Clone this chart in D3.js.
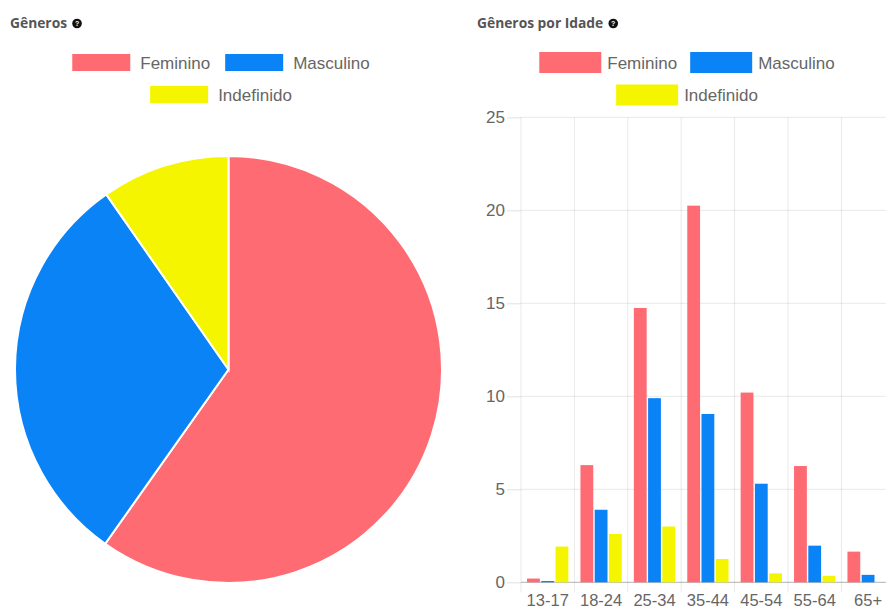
<!DOCTYPE html>
<html>
<head>
<meta charset="utf-8">
<script src="https://cdn.jsdelivr.net/npm/d3@7"></script>
<style>
  html, body { margin: 0; padding: 0; background: #fff; }
  svg { display: block; }
</style>
</head>
<body>
<svg id="chart" width="886" height="610"></svg>
<script>
// ---------- DATA ----------
const genders = ["Feminino", "Masculino", "Indefinido"];
const genderColors = ["#ff6b73", "#0a83f6", "#f5f500"];
const genderTotals = [59.8, 30.5, 9.7];

const ageGroups = ["13-17", "18-24", "25-34", "35-44", "45-54", "55-64", "65+"];
const femininoValues = [0.2, 6.3, 14.75, 20.25, 10.2, 6.25, 1.65];
const masculinoValues = [0.07, 3.9, 9.9, 9.05, 5.3, 1.97, 0.4];
const indefinidoValues = [1.92, 2.6, 3.0, 1.25, 0.48, 0.35, 0];
const yTicks = [0, 5, 10, 15, 20, 25];

const pieTitle = "Gêneros";
const barTitle = "Gêneros por Idade";

// ---------- SETUP ----------
const svg = d3.select("#chart");
svg.append("rect").attr("width", 886).attr("height", 610).attr("fill", "#fff");
const labelFont = "'Liberation Sans', Arial, Helvetica, sans-serif";
const titleFont = "'Open Sans', 'DejaVu Sans', sans-serif";

function title(x, y, txt) {
  const g = svg.append("g");
  const t = g.append("text").attr("x", x).attr("y", y)
    .attr("font-family", titleFont).attr("font-weight", 700)
    .attr("font-size", 13.8).attr("fill", "#555").text(txt);
  const w = t.node().getComputedTextLength();
  const cx = x + w + 10, cy = y - 4.5;
  g.append("circle").attr("cx", cx).attr("cy", cy).attr("r", 4.8).attr("fill", "#111");
  g.append("text").attr("x", cx).attr("y", cy + 2.6).attr("text-anchor", "middle")
    .attr("font-family", labelFont).attr("font-weight", 700).attr("font-size", 7)
    .attr("fill", "#fff").text("?");
}

function legend(centerX, rows, boxW, boxH, gapText, gapItem) {
  rows.forEach(row => {
    const g = svg.append("g");
    const items = row.items.map(i => {
      const t = g.append("text").attr("font-family", labelFont).attr("font-size", 17)
        .attr("fill", "#666").text(genders[i]);
      return { i, t, w: t.node().getComputedTextLength() };
    });
    const total = d3.sum(items, d => boxW + gapText + d.w) + gapItem * (items.length - 1);
    let x = centerX - total / 2;
    items.forEach(d => {
      g.append("rect").attr("x", x).attr("y", row.boxY).attr("width", boxW).attr("height", boxH)
        .attr("fill", genderColors[d.i]);
      d.t.attr("x", x + boxW + gapText).attr("y", row.textY);
      x += boxW + gapText + d.w + gapItem;
    });
  });
}

// ---------- PIE ----------
title(10, 28, pieTitle);
legend(221, [
  { items: [0, 1], boxY: 54, textY: 68.5 },
  { items: [2], boxY: 86, textY: 100.5 }
], 58, 17, 10, 15);

const pie = d3.pie().sort(null).value(d => d)(genderTotals);
const arc = d3.arc().innerRadius(0).outerRadius(213.5);
svg.append("g").attr("transform", "translate(228.5,369.5)")
  .selectAll("path").data(pie).join("path")
  .attr("d", arc)
  .attr("fill", (d, i) => genderColors[i])
  .attr("stroke", "#fff").attr("stroke-width", 2);

// ---------- BARS ----------
title(477, 28, barTitle);
legend(687, [
  { items: [0, 1], boxY: 52, textY: 68.5 },
  { items: [2], boxY: 84.5, textY: 100.5 }
], 62, 21, 6, 13);

const x0Start = 521, catW = 53.4;
const x = d3.scaleBand().domain(ageGroups)
  .range([x0Start, x0Start + catW * ageGroups.length]).padding(0);
const xInner = d3.scaleBand().domain(genders)
  .range([x.bandwidth() * 0.1, x.bandwidth() * 0.9])
  .paddingInner(0.1).paddingOuter(0.05);
const y = d3.scaleLinear().domain([0, 25]).range([582.3, 117.3]);
const plotRight = x.range()[1];

const grid = svg.append("g");
grid.selectAll("line.h").data(yTicks).join("line")
  .attr("x1", x0Start).attr("x2", plotRight)
  .attr("y1", d => y(d)).attr("y2", d => y(d))
  .attr("stroke", d => d === 0 ? "rgba(0,0,0,0.3)" : "rgba(0,0,0,0.09)")
  .attr("stroke-width", 1);
const bounds = ageGroups.map(c => x(c)).concat([plotRight]);
grid.selectAll("line.v").data(bounds).join("line")
  .attr("x1", d => d).attr("x2", d => d)
  .attr("y1", y(25)).attr("y2", y(0) + 10)
  .attr("stroke", "rgba(0,0,0,0.09)").attr("stroke-width", 1);

const yAxis = svg.append("g").attr("transform", `translate(${x0Start},0)`)
  .call(d3.axisLeft(y).tickValues(yTicks).tickSize(14).tickPadding(2).tickFormat(d3.format("d")));
yAxis.select(".domain").remove();
yAxis.selectAll("line").attr("stroke", "rgba(0,0,0,0.12)");
yAxis.selectAll("text").attr("font-family", labelFont).attr("font-size", 17).attr("fill", "#666");

const xAxis = svg.append("g").attr("transform", `translate(0,${y(0)})`)
  .call(d3.axisBottom(x).tickSize(0).tickPadding(12));
xAxis.select(".domain").remove();
xAxis.selectAll("text").attr("font-family", labelFont).attr("font-size", 16.5).attr("fill", "#666");

const seriesValues = [femininoValues, masculinoValues, indefinidoValues];
const rows = ageGroups.map((c, ci) => ({ c, vals: seriesValues.map(s => s[ci]) }));
const groups = svg.append("g").selectAll("g").data(rows).join("g")
  .attr("transform", d => `translate(${x(d.c)},0)`);
groups.selectAll("rect").data(d => d.vals.map((v, si) => ({ v, si }))).join("rect")
  .attr("x", d => xInner(genders[d.si]))
  .attr("width", xInner.bandwidth())
  .attr("y", d => y(d.v))
  .attr("height", d => y(0) - y(d.v))
  .attr("fill", d => genderColors[d.si]);
</script>
</body>
</html>
